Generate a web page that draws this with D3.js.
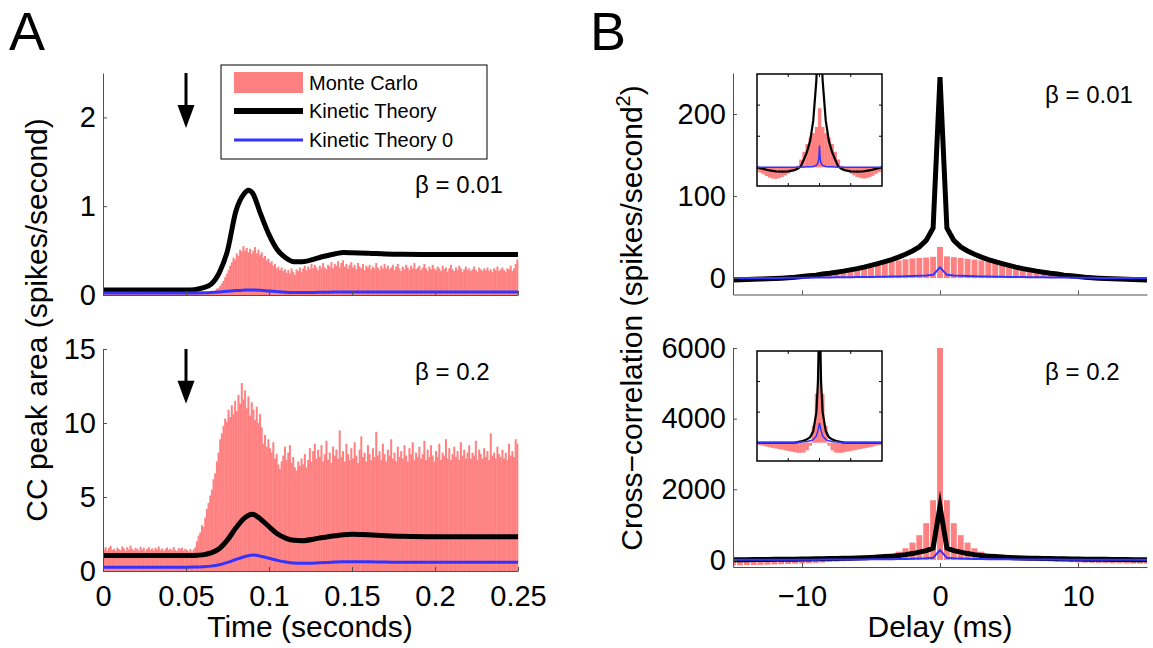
<!DOCTYPE html>
<html><head><meta charset="utf-8">
<script src="https://cdn.jsdelivr.net/npm/d3@7"></script>
<style>body{margin:0;background:#fff}</style>
</head><body><svg id="fig" width="1153" height="648" style="background:#fff"></svg>
<script>
// ---------------- DATA ----------------
// Panel A: Monte Carlo histogram, 1 ms bins starting at t = 0
const mcBinWidth = 0.001;
const mcTop = [
0.01,0.01,0.02,0.01,0.01,0.02,0.01,0.01,0.02,0.01, 0.01,0.02,0.01,0.01,0.02,0.01,0.01,0.02,0.01,0.01,
0.02,0.01,0.01,0.02,0.01,0.01,0.02,0.01,0.01,0.02, 0.01,0.01,0.02,0.01,0.01,0.02,0.01,0.01,0.02,0.01,
0.01,0.02,0.01,0.01,0.02,0.01,0.01,0.02,0.01,0.01, 0.02,0.01,0.01,0.02,0.01,0.01,0.02,0.01,0.01,0.02,
0.01,0.01,0.02,0.02,0.03,0.03,0.04,0.05,0.07,0.08, 0.10,0.13,0.16,0.20,0.24,0.28,0.33,0.37,0.42,0.40,
0.47,0.44,0.51,0.49,0.55,0.50,0.53,0.48,0.52,0.46, 0.50,0.54,0.47,0.51,0.45,0.48,0.42,0.44,0.39,0.41,
0.36,0.38,0.33,0.35,0.30,0.32,0.28,0.31,0.27,0.29, 0.25,0.28,0.24,0.30,0.26,0.23,0.29,0.27,0.31,0.26,
0.30,0.33,0.28,0.32,0.29,0.35,0.30,0.34,0.31,0.28, 0.33,0.30,0.36,0.31,0.29,0.34,0.32,0.37,0.30,0.35,
0.33,0.38,0.31,0.36,0.39,0.32,0.35,0.30,0.34,0.37, 0.31,0.34,0.29,0.36,0.32,0.30,0.35,0.28,0.33,0.31,
0.34,0.29,0.32,0.30,0.36,0.31,0.28,0.33,0.30,0.35, 0.30,0.33,0.29,0.31,0.34,0.28,0.32,0.35,0.30,0.27,
0.32,0.29,0.34,0.31,0.28,0.33,0.30,0.36,0.29,0.31, 0.33,0.28,0.31,0.35,0.30,0.27,0.32,0.29,0.34,0.30,
0.28,0.32,0.30,0.27,0.33,0.29,0.31,0.26,0.30,0.34, 0.29,0.27,0.31,0.28,0.33,0.30,0.26,0.29,0.32,0.28,
0.30,0.27,0.29,0.32,0.28,0.26,0.31,0.29,0.27,0.30, 0.28,0.31,0.27,0.29,0.26,0.30,0.28,0.32,0.27,0.29,
0.31,0.28,0.26,0.30,0.29,0.33,0.27,0.30,0.35,0.40
];
const mcBottom = [
1.45,1.62,1.38,1.55,1.70,1.42,1.50,1.36,1.58,1.47, 1.40,1.66,1.52,1.35,1.60,1.44,1.72,1.48,1.39,1.55,
1.50,1.37,1.63,1.45,1.56,1.34,1.49,1.61,1.42,1.53, 1.38,1.57,1.46,1.65,1.40,1.52,1.36,1.48,1.59,1.43,
1.51,1.39,1.62,1.44,1.35,1.55,1.47,1.58,1.37,1.50, 1.42,1.33,1.48,1.30,1.45,1.60,2.00,2.40,2.60,3.10,
3.00,3.60,4.20,4.60,5.10,5.50,6.20,6.60,7.40,8.00, 8.90,9.30,9.80,10.3,10.1,10.9,10.4,11.2,10.6,11.5,
10.8,11.9,11.3,12.7,11.6,12.2,11.0,11.8,10.5,11.4, 10.9,10.2,11.1,10.0,10.6,9.70,8.60,9.20,8.40,8.90,
8.30,8.00,8.70,7.60,7.90,7.20,6.90,7.40,7.80,8.40, 7.50,8.00,8.50,7.30,7.70,7.00,6.80,7.40,7.10,7.60,
7.20,7.90,7.00,7.50,8.30,7.40,8.10,8.60,7.60,8.20, 7.70,8.50,7.40,7.90,8.80,7.50,8.00,7.30,8.40,7.80,
8.20,7.60,9.50,7.70,8.10,7.40,8.60,7.90,7.50,8.30, 7.60,8.70,7.80,7.30,8.20,9.10,7.70,8.00,7.40,8.50,
7.90,7.50,8.30,7.70,9.40,7.80,8.10,7.50,8.60,7.90, 7.40,8.20,7.80,8.90,7.60,8.00,7.40,8.40,7.70,8.10,
7.60,8.50,7.80,7.40,8.30,7.90,8.70,7.50,8.00,7.70, 8.40,7.60,7.90,8.80,7.50,8.20,7.70,8.50,7.80,7.40,
8.10,7.70,8.60,7.50,8.00,7.80,8.90,7.60,8.30,7.50, 7.90,8.40,7.70,8.10,7.50,8.70,7.80,8.20,7.60,8.00,
8.50,7.60,8.00,7.80,8.80,7.50,8.20,7.90,7.60,8.30, 7.70,8.10,7.50,9.30,7.80,8.00,7.60,8.40,7.90,7.70,
8.20,7.60,8.00,7.50,8.60,7.80,8.10,7.70,8.90,8.60
];
// Panel A: kinetic theory curves
const ktTimes  = [0,0.05,0.055,0.06,0.065,0.07,0.075,0.08,0.085,0.0875,0.09,0.095,0.1,0.105,0.11,0.115,0.12,0.13,0.14,0.145,0.15,0.16,0.17,0.18,0.2,0.25];
const ktTop    = [0.056,0.056,0.06,0.08,0.12,0.25,0.5,0.94,1.14,1.18,1.15,0.91,0.68,0.51,0.42,0.375,0.375,0.42,0.465,0.478,0.476,0.47,0.462,0.458,0.456,0.455];
const kt0Top   = [0.022,0.022,0.022,0.024,0.028,0.034,0.042,0.05,0.055,0.057,0.057,0.053,0.045,0.038,0.032,0.029,0.028,0.03,0.033,0.034,0.035,0.035,0.034,0.034,0.034,0.034];
const ktBottom = [1.04,1.04,1.05,1.09,1.22,1.5,2.1,2.9,3.55,3.75,3.83,3.5,3.0,2.52,2.22,2.07,2.05,2.22,2.38,2.45,2.48,2.45,2.38,2.35,2.32,2.32];
const kt0Bottom= [0.25,0.26,0.27,0.29,0.33,0.42,0.58,0.78,0.96,1.03,1.08,1.0,0.86,0.72,0.61,0.54,0.52,0.55,0.6,0.62,0.63,0.62,0.6,0.59,0.59,0.59];
const stimulusTime = 0.05;
const arrowTopY = [2.5, 1.88];
const arrowBottomY = [15, 11.3];
const xTicksA = [0,0.05,0.1,0.15,0.2,0.25];
const xTickLabelsA = ['0','0.05','0.1','0.15','0.2','0.25'];
const yTicksA1 = [0,1,2];
const yTicksA2 = [0,5,10,15];

// Panel B: cross-correlation, 0.5 ms bins centred from -15 to 15 ms
const delayStart = -15, delayStep = 0.5;
const ccTopMC = [0.1,0.2,0.3,0.5,0.8,1.1,1.5,2.0,2.6,3.3,4.0,5.0,6.0,7.0,8.0,9.0,10.0,11.5,12.5,14.0,15.5,17.0,18.5,20.0,21.5,23.0,24.0,24.5,25.0,26.0,
  38,
  26.5,25.5,24.5,23.5,22.5,21.5,20.0,18.5,17.0,15.5,14.0,12.5,11.0,10.0,9.0,7.8,6.8,5.8,4.9,4.0,3.2,2.5,2.0,1.5,1.1,0.8,0.5,0.3,0.2,0.1];
const ccTopKT = [-2.2,-2.0,-1.8,-1.5,-1.2,-0.9,-0.5,-0.1,0.4,1.0,2.0,2.8,3.6,5.0,6.0,7.2,8.5,10.0,11.5,13.4,15.5,17.7,20.0,22.5,25.5,29.0,33.0,38.0,46.0,61.0,
  245,
  61.0,46.0,38.0,33.0,29.0,25.5,22.5,20.0,17.7,15.5,13.4,11.5,10.0,8.5,7.2,6.0,5.0,3.6,2.8,2.0,1.0,0.4,-0.1,-0.5,-0.9,-1.2,-1.5,-1.8,-2.0,-2.2];
const ccTopKT0 = [0,0.03,0.05,0.08,0.1,0.15,0.2,0.25,0.3,0.35,0.4,0.5,0.6,0.7,0.8,0.9,1.0,1.1,1.2,1.3,1.4,1.5,1.6,1.8,2.0,2.2,2.5,2.8,3.2,4.0,
  13,
  4.0,3.2,2.8,2.5,2.2,2.0,1.8,1.6,1.5,1.4,1.3,1.2,1.1,1.0,0.9,0.8,0.7,0.6,0.5,0.4,0.35,0.3,0.25,0.2,0.15,0.1,0.08,0.05,0.03,0];
const ccBotMC = [-152,-150,-147,-143,-139,-134,-128,-122,-115,-108,-100,-92,-82,-72,-60,-48,-35,-20,-5,15,40,70,110,160,235,330,490,700,1040,1690,
  6800,
  1690,1040,700,490,330,235,160,110,70,40,15,-5,-15,-25,-34,-42,-50,-57,-64,-70,-76,-81,-86,-90,-94,-97,-100,-102,-104,-105];
const ccBotKT = [6,7,8,10,12,14,16,18,20,22,25,28,31,34,38,42,46,51,57,64,72,82,95,108,125,150,180,220,265,335,
  1520,
  335,265,220,180,150,125,108,95,82,72,64,57,51,46,42,38,34,31,28,25,22,20,18,16,14,12,10,8,7,6];
const ccBotKT0 = [2,2.5,3,3.5,4,4.5,5,5.5,6,6.5,7,7.5,8,9,10,11,12,13,14,15,16,18,20,22,25,28,32,38,45,60,
  280,
  60,45,38,32,28,25,22,20,18,16,15,14,13,12,11,10,9,8,7.5,7,6.5,6,5.5,5,4.5,4,3.5,3,2.5,2];
const xTicksB = [-10,0,10];
const xTickLabelsB = ['\u221210','0','10'];
const yTicksB1 = [0,100,200];
const yTicksB2 = [0,2000,4000,6000];

// Insets (wide delay range, arbitrary units)
const insetBinStart = -200, insetBinStep = 10;
const insetTopMC = [-0.13,-0.17,-0.22,-0.28,-0.33,-0.36,-0.37,-0.35,-0.31,-0.26,-0.2,-0.14,-0.08,0.05,0.25,0.5,0.75,0.95,1.1,1.3,
  1.9,
  1.3,1.1,0.95,0.75,0.5,0.25,0.05,-0.08,-0.14,-0.2,-0.26,-0.31,-0.34,-0.36,-0.35,-0.32,-0.27,-0.21,-0.16,-0.12];
const insetBotMC = [-0.06,-0.08,-0.1,-0.13,-0.15,-0.17,-0.19,-0.21,-0.23,-0.25,-0.27,-0.29,-0.31,-0.33,-0.33,-0.32,-0.25,-0.1,0.55,1.6,
  5,
  1.6,0.55,-0.1,-0.25,-0.32,-0.33,-0.33,-0.31,-0.29,-0.27,-0.25,-0.23,-0.21,-0.19,-0.17,-0.15,-0.13,-0.1,-0.08,-0.06];
const insetLineDelays = [-200,-180,-160,-140,-120,-100,-80,-70,-60,-50,-40,-30,-20,-10,-5,-2,0,2,5,10,20,30,40,50,60,70,80,100,120,140,160,180,200];
const insetTopKT  = [0,-0.05,-0.1,-0.13,-0.14,-0.13,-0.09,-0.05,0.03,0.25,0.5,0.85,1.5,2.8,4,5,6,5,4,2.8,1.5,0.85,0.5,0.25,0.03,-0.05,-0.09,-0.13,-0.14,-0.13,-0.1,-0.05,0];
const insetTopKT0 = [0,0,0,0,0,0,0,0,0.005,0.01,0.015,0.02,0.03,0.06,0.13,0.3,0.7,0.3,0.13,0.06,0.03,0.02,0.015,0.01,0.005,0,0,0,0,0,0,0,0];
const insetBotKT  = [0,0,0,0,0,0,0,0.02,0.04,0.07,0.11,0.18,0.38,1.0,2.0,3.5,6,3.5,2.0,1.0,0.38,0.18,0.11,0.07,0.04,0.02,0,0,0,0,0,0,0];
const insetBotKT0 = [0,0,0,0,0,0,0,0.01,0.02,0.03,0.04,0.06,0.1,0.22,0.4,0.55,0.65,0.55,0.4,0.22,0.1,0.06,0.04,0.03,0.02,0.01,0,0,0,0,0,0,0];
const insetXTicks = [-100,0,100];
const insetYTicks = [1,2];

// ---------------- DRAWING ----------------
const FONT = '"Liberation Sans", Arial, Helvetica, sans-serif';
const RED = '#ff8080', BLUE = '#3333ff', AXC = '#505050';
const svg = d3.select('#fig');
svg.append('rect').attr('width',1153).attr('height',648).attr('fill','#fff');
const defs = svg.append('defs');
let clipN = 0;
function clip(x0,y0,x1,y1){
  const id = 'c'+(clipN++);
  defs.append('clipPath').attr('id',id).append('rect').attr('x',x0).attr('y',y0).attr('width',x1-x0).attr('height',y1-y0);
  return `url(#${id})`;
}

const xA  = d3.scaleLinear().domain([0,0.25]).range([103,518]);
const yA1 = d3.scaleLinear().domain([0,2.5]).range([295,73]);
const yA2 = d3.scaleLinear().domain([0,15]).range([571,349]);
const xB  = d3.scaleLinear().domain([-15,15]).range([733,1147]);
const yB1 = d3.scaleLinear().domain([-20,250]).range([294.5,73]);
const yB2 = d3.scaleLinear().domain([-200,6000]).range([567,348]);

function styleAxis(g){
  g.attr('font-family',FONT).attr('font-size',29);
  g.select('.domain').attr('stroke',AXC).attr('stroke-width',1);
  g.selectAll('.tick line').attr('stroke',AXC);
  g.selectAll('.tick text').attr('fill','#000');
}
function yAxis(y,xpos,ticks){
  const g = svg.append('g').attr('transform',`translate(${xpos},0)`)
    .call(d3.axisLeft(y).tickValues(ticks).tickFormat(d3.format('d')).tickSizeInner(-4).tickSizeOuter(0).tickPadding(7));
  styleAxis(g);
}
function xAxis(x,ypos,ticks,labels,pad){
  const ax = d3.axisBottom(x).tickValues(ticks).tickSizeInner(-4).tickSizeOuter(0).tickPadding(pad);
  ax.tickFormat(labels ? (d,i)=>labels[i] : ()=> '');
  const g = svg.append('g').attr('transform',`translate(0,${ypos})`).call(ax);
  styleAxis(g);
}

// ---- Panel A ----
function panelA(y, mc, kt, kt0, arrowY, ytks, beta, betaY, showLabels){
  const [yb, yt] = y.range();
  const cp = clip(xA.range()[0], yt-10, xA.range()[1]+1, yb);
  const g = svg.append('g');
  g.append('g').attr('clip-path',cp).selectAll('rect').data(mc).join('rect')
    .attr('x',(d,i)=>xA(i*mcBinWidth))
    .attr('width',(d,i)=>xA((i+1)*mcBinWidth)-xA(i*mcBinWidth)+0.35)
    .attr('y',d=>y(d)).attr('height',d=>y(0)-y(d)).attr('fill',RED);
  const line = d3.line().x((d,i)=>xA(ktTimes[i])).y(d=>y(d)).curve(d3.curveMonotoneX);
  g.append('path').attr('d',line(kt)).attr('fill','none').attr('stroke','#000').attr('stroke-width',5);
  g.append('path').attr('d',line(kt0)).attr('fill','none').attr('stroke',BLUE).attr('stroke-width',3);
  // arrow marking stimulus onset
  const ax = xA(stimulusTime), ay0 = y(arrowY[0]), ay1 = y(arrowY[1]);
  g.append('line').attr('x1',ax).attr('x2',ax).attr('y1',ay0).attr('y2',ay1-20).attr('stroke','#000').attr('stroke-width',3);
  g.append('path').attr('d',`M${ax-8.5},${ay1-23}L${ax+8.5},${ay1-23}L${ax},${ay1}Z`).attr('fill','#000');
  yAxis(y, xA.range()[0], ytks);
  xAxis(xA, yb, xTicksA, showLabels ? xTickLabelsA : null, 14);
  svg.append('text').attr('x',415).attr('y',betaY).attr('font-family',FONT).attr('font-size',24).text('\u03b2 = '+beta);
}
panelA(yA1, mcTop, ktTop, kt0Top, arrowTopY, yTicksA1, '0.01', 193, false);
panelA(yA2, mcBottom, ktBottom, kt0Bottom, arrowBottomY, yTicksA2, '0.2', 380, true);

// legend
const lg = svg.append('g').attr('font-family',FONT).attr('font-size',20);
lg.append('rect').attr('x',221).attr('y',65).attr('width',266).attr('height',94).attr('fill','#fff').attr('stroke','#000').attr('stroke-width',1);
lg.append('rect').attr('x',234).attr('y',72).attr('width',69).attr('height',21).attr('fill',RED);
lg.append('line').attr('x1',234).attr('x2',303).attr('y1',111).attr('y2',111).attr('stroke','#000').attr('stroke-width',6);
lg.append('line').attr('x1',234).attr('x2',303).attr('y1',140).attr('y2',140).attr('stroke',BLUE).attr('stroke-width',3);
lg.append('text').attr('x',309).attr('y',90).text('Monte Carlo');
lg.append('text').attr('x',309).attr('y',118).text('Kinetic Theory');
lg.append('text').attr('x',309).attr('y',147).text('Kinetic Theory 0');

// ---- Panel B ----
function panelB(y, mc, kt, kt0, ytks, beta, betaY, showLabels, lineW){
  const [yb, yt] = y.range();
  const cp = clip(xB.range()[0], yt, xB.range()[1], yb);
  const g = svg.append('g');
  const cx = i => delayStart + i*delayStep;
  g.append('g').attr('clip-path',cp).selectAll('rect').data(mc).join('rect')
    .attr('x',(d,i)=>xB(cx(i)-delayStep/2)+0.5)
    .attr('width',(d,i)=>xB(cx(i)+delayStep/2)-xB(cx(i)-delayStep/2)-1)
    .attr('y',d=>Math.min(y(d),y(0))).attr('height',d=>Math.abs(y(0)-y(d))).attr('fill',RED);
  const line = d3.line().x((d,i)=>xB(cx(i))).y(d=>y(d));
  const lc = clip(xB.range()[0]-2, yt-6, xB.range()[1]+6, yb+4);
  g.append('path').attr('clip-path',lc).attr('d',line(kt)).attr('fill','none').attr('stroke','#000').attr('stroke-width',lineW).attr('stroke-linejoin','miter').attr('stroke-miterlimit',20);
  g.append('path').attr('clip-path',lc).attr('d',line(kt0)).attr('fill','none').attr('stroke',BLUE).attr('stroke-width',2);
  yAxis(y, xB.range()[0], ytks);
  xAxis(xB, yb, xTicksB, showLabels ? xTickLabelsB : null, 18);
  svg.append('text').attr('x',1045).attr('y',betaY).attr('font-family',FONT).attr('font-size',24).text('\u03b2 = '+beta);
}
panelB(yB1, ccTopMC, ccTopKT, ccTopKT0, yTicksB1, '0.01', 103, false, 5);
panelB(yB2, ccBotMC, ccBotKT, ccBotKT0, yTicksB2, '0.2', 380, true, 5);

// ---- Insets ----
function inset(x0,y0,x1,y1, mc, kt, kt0){
  const xi = d3.scaleLinear().domain([-200,200]).range([x0,x1]);
  const yi = d3.scaleLinear().domain([-0.6,3]).range([y1,y0]);
  const g = svg.append('g');
  g.append('rect').attr('x',x0).attr('y',y0).attr('width',x1-x0).attr('height',y1-y0).attr('fill','#fff');
  const cp = clip(x0,y0,x1,y1);
  const inner = g.append('g').attr('clip-path',cp);
  inner.selectAll('rect').data(mc).join('rect')
    .attr('x',(d,i)=>xi(insetBinStart+i*insetBinStep-insetBinStep/2))
    .attr('width',(d,i)=>xi(insetBinStart+i*insetBinStep+insetBinStep/2)-xi(insetBinStart+i*insetBinStep-insetBinStep/2)+0.3)
    .attr('y',d=>Math.min(yi(d),yi(0))).attr('height',d=>Math.abs(yi(0)-yi(d))).attr('fill',RED);
  const line = d3.line().x((d,i)=>xi(insetLineDelays[i])).y(d=>yi(d));
  inner.append('path').attr('d',line(kt)).attr('fill','none').attr('stroke','#000').attr('stroke-width',2.2);
  inner.append('path').attr('d',line(kt0)).attr('fill','none').attr('stroke',BLUE).attr('stroke-width',1.5);
  insetXTicks.forEach(t=>{
    g.append('line').attr('x1',xi(t)).attr('x2',xi(t)).attr('y1',y0).attr('y2',y0+3).attr('stroke','#000');
    g.append('line').attr('x1',xi(t)).attr('x2',xi(t)).attr('y1',y1).attr('y2',y1-3).attr('stroke','#000');
  });
  insetYTicks.forEach(t=>{
    g.append('line').attr('x1',x0).attr('x2',x0+3).attr('y1',yi(t)).attr('y2',yi(t)).attr('stroke','#000');
    g.append('line').attr('x1',x1).attr('x2',x1-3).attr('y1',yi(t)).attr('y2',yi(t)).attr('stroke','#000');
  });
  g.append('rect').attr('x',x0).attr('y',y0).attr('width',x1-x0).attr('height',y1-y0).attr('fill','none').attr('stroke','#000').attr('stroke-width',1.5);
}
inset(757,74,882,186, insetTopMC, insetTopKT, insetTopKT0);
inset(757,351,882,461, insetBotMC, insetBotKT, insetBotKT0);

// ---- Labels ----
const T = (x,y,s,size)=>svg.append('text').attr('x',x).attr('y',y).attr('font-family',FONT).attr('font-size',size).text(s);
T(9,50,'A',54);
T(590,50,'B',54);
T(310,637,'Time (seconds)',30).attr('text-anchor','middle');
T(940,637,'Delay (ms)',30).attr('text-anchor','middle');
svg.append('text').attr('transform','translate(47,320) rotate(-90)').attr('text-anchor','middle')
  .attr('font-family',FONT).attr('font-size',30).text('CC peak area (spikes/second)');
const yl = svg.append('text').attr('transform','translate(642,318) rotate(-90)').attr('text-anchor','middle')
  .attr('font-family',FONT).attr('font-size',30);
yl.append('tspan').text('Cross\u2212correlation (spikes/second');
yl.append('tspan').attr('font-size',20).attr('dy',-12).text('2');
yl.append('tspan').attr('dy',12).text(')');
</script>
</body></html>
